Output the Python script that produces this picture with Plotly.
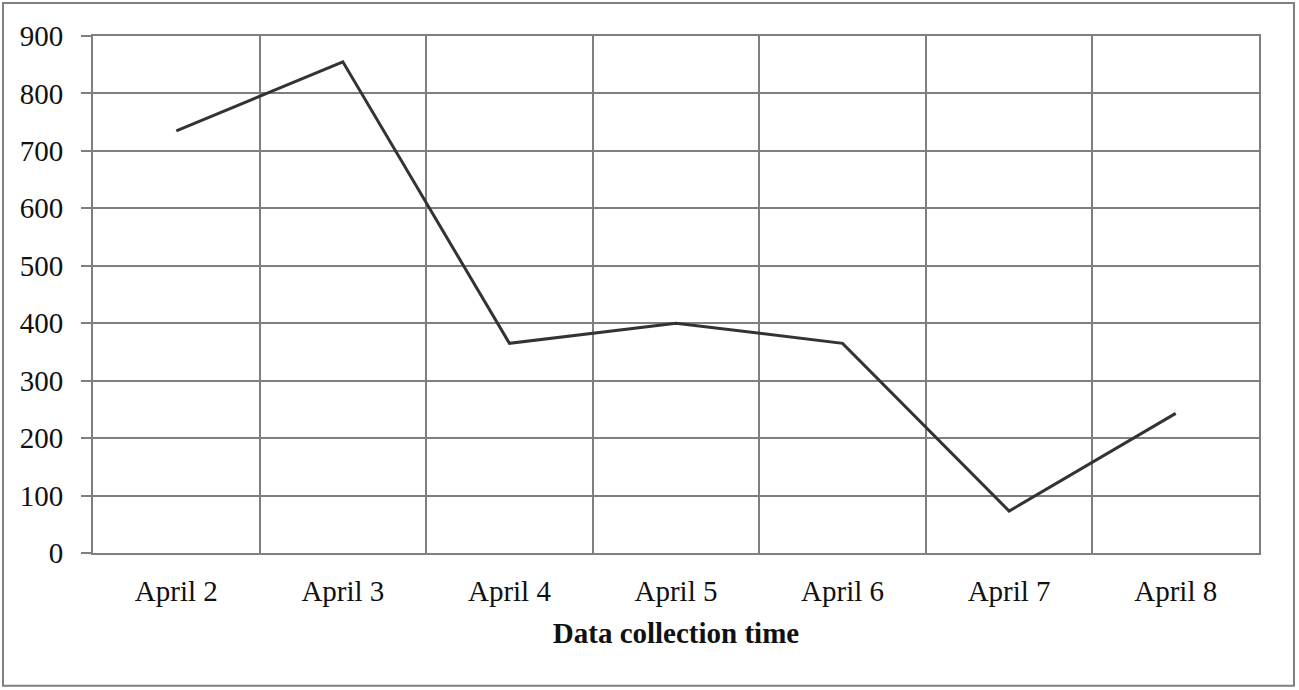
import plotly.graph_objects as go

days = ["April 2", "April 3", "April 4", "April 5", "April 6", "April 7", "April 8"]
counts = [735, 855, 365, 400, 365, 73, 243]
y_ticks = [0, 100, 200, 300, 400, 500, 600, 700, 800, 900]

grid = "#7f7f7f"
font = "Liberation Serif"

fig = go.Figure(go.Scatter(
    x=days, y=counts, mode="lines",
    line=dict(color="#333333", width=3),
))

fig.update_xaxes(
    type="category", range=[-0.5, 6.5],
    tickson="boundaries", ticks="", showgrid=True, gridcolor=grid, gridwidth=2,
    showline=True, linecolor=grid, linewidth=2, mirror=True,
    tickfont=dict(family=font, size=29, color="#111111"),
    ticklabelstandoff=11,
    title=dict(text="<b>Data collection time</b>", standoff=17,
               font=dict(family=font, size=29, color="#111111")),
)
fig.update_yaxes(
    range=[0, 900], tickvals=y_ticks,
    showgrid=True, gridcolor=grid, gridwidth=2,
    ticks="outside", ticklen=10, tickcolor=grid, tickwidth=2,
    showline=True, linecolor=grid, linewidth=2, mirror=True,
    ticklabelstandoff=12,
    tickfont=dict(family=font, size=29, color="#111111"),
    zeroline=False,
)

fig.update_layout(
    width=1299, height=690,
    margin=dict(l=93, r=40, t=36, b=137, autoexpand=False),
    plot_bgcolor="white", paper_bgcolor="white",
    showlegend=False,
    shapes=[dict(type="rect", xref="paper", yref="paper",
                 x0=-0.0772, x1=1.030, y0=-0.257, y1=1.064,
                 line=dict(color="#7f7f7f", width=2))],
)

# page body has a default margin; drop it so the figure sits at the window corner
fig.write_html("out.html", config={"displayModeBar": False},
               post_script="document.body.style.margin='0';")
